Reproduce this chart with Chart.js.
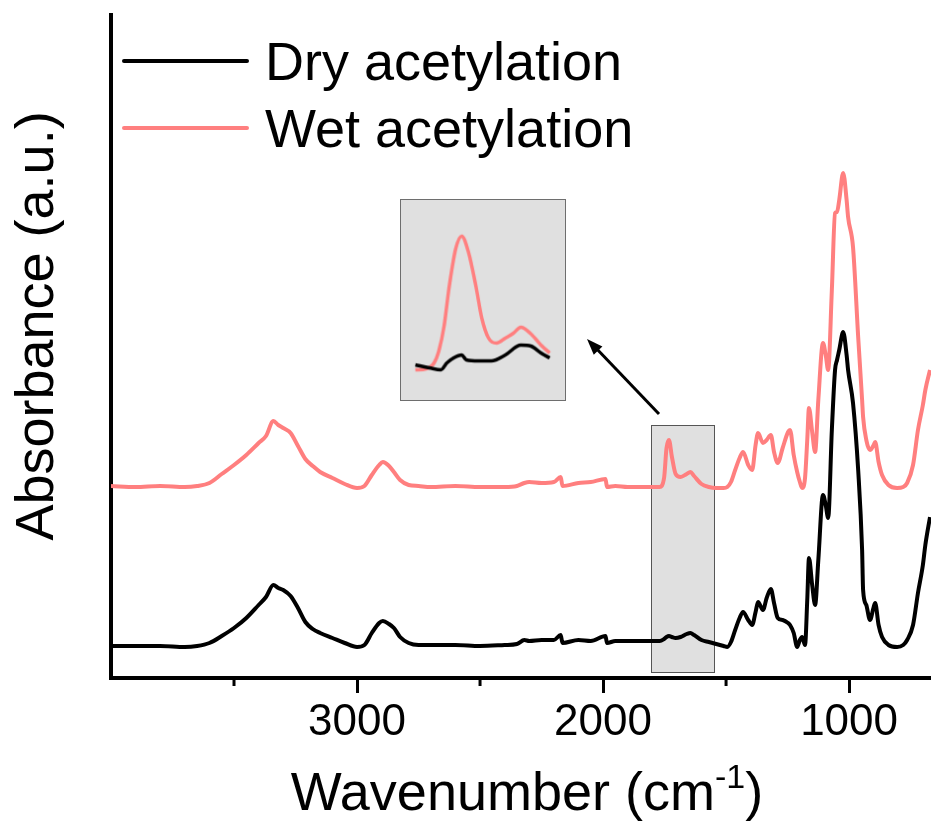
<!DOCTYPE html>
<html><head><meta charset="utf-8">
<script src="https://cdn.jsdelivr.net/npm/chart.js@4/dist/chart.umd.min.js"></script>
<style>
html,body{margin:0;padding:0;background:#fff;}
#wrap{position:relative;width:931px;height:825px;overflow:hidden;}
#main{position:absolute;left:0;top:0;}
#inset{position:absolute;left:400px;top:199px;border:1.5px solid #6e6e6e;background:#e0e0e0;}
</style></head><body>
<div id="wrap"><canvas id="main" width="931" height="825"></canvas><canvas id="inset" width="166" height="202"></canvas></div>
<script>
// ---- data (absorbance in arbitrary units) ----
const seriesNames = ['Dry acetylation', 'Wet acetylation'];
const seriesColors = ['#000000', '#ff7f7f'];
const wavenumbers = [4000,3900,3800,3700,3650,3600,3550,3500,3450,3400,3370,3340,3320,3300,3270,3240,3210,3180,3150,3100,3050,3000,2970,2940,2910,2895,2870,2850,2825,2790,2750,2700,2600,2500,2400,2350,2320,2300,2250,2200,2172,2165,2100,2050,1990,1984,1950,1900,1850,1800,1770,1752,1742,1732,1720,1705,1685,1660,1645,1630,1600,1570,1540,1510,1495,1480,1463,1445,1431,1410,1394,1380,1370,1350,1335,1318,1305,1290,1270,1248,1240,1225,1211,1200,1191,1179,1170,1163,1150,1138,1125,1106,1095,1085,1070,1057,1049,1040,1024,1010,1004,984,963,947,943,930,915,900,894,880,866,840,805,780,764,740,720,700,690,671];
const dryAbs = [32,32,32,31,32,35,42,50,60,73,81,93,90,88,82,70,56,49,45,40,35,31,33,45,55,57,54,50,41,35,33,33,33,32,33,34,38,37,38,38,43,35,38,37,42,35,37,37,37,37,37,39,41,42,41,40,41,44,45,43,38,36,34,32,31,36,48,60,66,58,53,66,76,68,80,89,75,60,58,55,53,45,31,38,41,33,78,120,93,73,118,183,173,160,248,308,318,328,346,323,308,275,208,128,88,73,58,71,75,53,41,33,31,33,38,53,85,113,133,161];
const wetAbs = [192,191,192,191,192,195,204,213,223,235,242,257,253,250,245,232,219,212,206,200,194,190,192,203,213,216,212,206,198,193,192,191,192,191,191,192,195,196,195,196,201,192,195,196,199,191,192,191,191,191,191,200,230,238,221,204,201,204,206,202,194,191,190,190,191,196,208,220,226,213,208,233,245,235,238,243,226,215,230,246,248,223,206,196,190,200,238,270,246,226,278,335,323,308,388,465,466,478,505,478,461,431,341,278,261,238,228,233,236,216,203,193,190,191,195,213,248,273,288,308];
// inset (1800-1600 cm-1, baseline-aligned, own arbitrary scale)
const insetWetWn = [1800,1784,1772,1765,1757,1750,1740,1731,1721,1710,1701,1691,1679,1666,1654,1643,1629,1613,1600];
const insetWet   = [31,32,38,50,76,113,153,166,150,116,83,63,58,63,68,74,68,56,48];
const insetDryWn = [1800,1779,1762,1753,1743,1731,1724,1706,1687,1666,1643,1628,1613,1600];
const insetDry   = [36,33,31,38,43,46,41,40,40,46,56,55,48,43];
// axis ticks
const tickValues = [3500,3000,2500,2000,1500,1000];
const tickLabels = ['','3000','','2000','','1000'];
// highlighted region in the main plot
const highlightWn = [1805,1549];
const highlightAbs = [6,253];

const FONT = '"Liberation Sans", Arial, sans-serif';
const toPts = (xs, ys) => xs.map((x, i) => ({x: x, y: ys[i]}));

const decor = {
  id: 'decor',
  beforeDatasetsDraw(chart) {
    const {ctx, scales: {x, y}} = chart;
    const x1 = x.getPixelForValue(highlightWn[0]), x2 = x.getPixelForValue(highlightWn[1]);
    const y1 = y.getPixelForValue(highlightAbs[1]), y2 = y.getPixelForValue(highlightAbs[0]);
    ctx.save();
    ctx.fillStyle = '#e0e0e0';
    ctx.fillRect(x1, y1, x2 - x1, y2 - y1);
    ctx.strokeStyle = '#555';
    ctx.lineWidth = 1;
    ctx.strokeRect(Math.round(x1) + 0.5, Math.round(y1) + 0.5, Math.round(x2 - x1), Math.round(y2 - y1));
    ctx.restore();
  },
  afterDraw(chart) {
    const {ctx, scales: {x}, chartArea} = chart;
    ctx.save();
    // minor ticks
    ctx.strokeStyle = '#000'; ctx.lineWidth = 3;
    tickValues.forEach((v, i) => {
      if (tickLabels[i] === '') {
        const px = x.getPixelForValue(v);
        ctx.beginPath(); ctx.moveTo(px, chartArea.bottom); ctx.lineTo(px, chartArea.bottom + 8); ctx.stroke();
      }
    });
    // arrow
    ctx.lineWidth = 3;
    ctx.beginPath(); ctx.moveTo(659, 414); ctx.lineTo(594, 346); ctx.stroke();
    const ang = Math.atan2(339 - 414, 587 - 659);
    ctx.fillStyle = '#000';
    ctx.beginPath();
    ctx.moveTo(587, 339);
    ctx.lineTo(587 - 16 * Math.cos(ang) + 6 * Math.sin(ang), 339 - 16 * Math.sin(ang) - 6 * Math.cos(ang));
    ctx.lineTo(587 - 16 * Math.cos(ang) - 6 * Math.sin(ang), 339 - 16 * Math.sin(ang) + 6 * Math.cos(ang));
    ctx.closePath(); ctx.fill();
    // legend
    ctx.font = '54px ' + FONT;
    ctx.textAlign = 'left'; ctx.textBaseline = 'alphabetic';
    chart.data.datasets.forEach((ds, i) => {
      const ly = 61 + i * 67;
      ctx.strokeStyle = ds.borderColor; ctx.lineWidth = 4; ctx.lineCap = 'round';
      ctx.beginPath(); ctx.moveTo(124, ly); ctx.lineTo(247, ly); ctx.stroke();
      ctx.fillStyle = '#000';
      ctx.fillText(ds.label, 265, ly + 19);
    });
    // y title
    ctx.save();
    ctx.translate(53, 326); ctx.rotate(-Math.PI / 2);
    ctx.textAlign = 'center'; ctx.fillStyle = '#000';
    ctx.font = '54px ' + FONT;
    ctx.fillText('Absorbance (a.u.)', 0, 0);
    ctx.restore();
    // x title with superscript
    const main = 'Wavenumber (cm', sup = '-1', close = ')';
    ctx.font = '54px ' + FONT;
    const w1 = ctx.measureText(main).width, w3 = ctx.measureText(close).width;
    ctx.font = '34px ' + FONT;
    const w2 = ctx.measureText(sup).width;
    const cx = (chartArea.left + chartArea.right) / 2 + 6;
    let sx = cx - (w1 + w2 + w3) / 2;
    const base = 810;
    ctx.fillStyle = '#000'; ctx.textAlign = 'left';
    ctx.font = '54px ' + FONT; ctx.fillText(main, sx, base);
    ctx.font = '34px ' + FONT; ctx.fillText(sup, sx + w1, base - 22);
    ctx.font = '54px ' + FONT; ctx.fillText(close, sx + w1 + w2, base);
    ctx.restore();
  }
};

new Chart(document.getElementById('main'), {
  type: 'line',
  data: {
    datasets: [
      {label: seriesNames[0], data: toPts(wavenumbers, dryAbs), borderColor: seriesColors[0], borderWidth: 4, pointRadius: 0, cubicInterpolationMode: 'monotone', fill: false},
      {label: seriesNames[1], data: toPts(wavenumbers, wetAbs), borderColor: seriesColors[1], borderWidth: 4, pointRadius: 0, cubicInterpolationMode: 'monotone', fill: false}
    ]
  },
  options: {
    responsive: false, animation: false, devicePixelRatio: 1, events: [],
    layout: {padding: {top: 15, left: 0, right: 0, bottom: 0}},
    plugins: {legend: {display: false}, tooltip: {enabled: false}},
    scales: {
      x: {
        type: 'linear', reverse: true, min: 667, max: 4000,
        afterBuildTicks: s => { s.ticks = tickValues.map(v => ({value: v})); },
        afterFit: s => { s.height = 147; },
        ticks: {
          autoSkip: false, maxRotation: 0, padding: 3, color: '#000',
          font: {family: FONT, size: 44},
          callback: (v) => tickLabels[tickValues.indexOf(v)]
        },
        grid: {display: true, drawOnChartArea: false, drawTicks: true, tickLength: 15, tickWidth: 3,
          tickColor: c => (c.tick && tickLabels[tickValues.indexOf(c.tick.value)] !== '') ? '#000' : 'rgba(0,0,0,0)'},
        border: {display: true, color: '#000', width: 4}
      },
      y: {
        min: 0, max: 663,
        afterFit: s => { s.width = 111; },
        ticks: {display: false},
        grid: {display: false, drawTicks: false},
        border: {display: true, color: '#000', width: 4}
      }
    }
  },
  plugins: [decor]
});

new Chart(document.getElementById('inset'), {
  type: 'line',
  data: {
    datasets: [
      {label: seriesNames[0], data: toPts(insetDryWn, insetDry), borderColor: seriesColors[0], borderWidth: 3.5, pointRadius: 0, cubicInterpolationMode: 'monotone'},
      {label: seriesNames[1], data: toPts(insetWetWn, insetWet), borderColor: seriesColors[1], borderWidth: 3.5, pointRadius: 0, cubicInterpolationMode: 'monotone'}
    ]
  },
  options: {
    responsive: false, animation: false, devicePixelRatio: 1, events: [],
    layout: {padding: 0},
    plugins: {legend: {display: false}, tooltip: {enabled: false}},
    scales: {
      x: {type: 'linear', reverse: true, min: 1577.2, max: 1821.3, display: false},
      y: {min: 0.5, max: 202.5, display: false}
    }
  }
});
</script>
</body></html>
